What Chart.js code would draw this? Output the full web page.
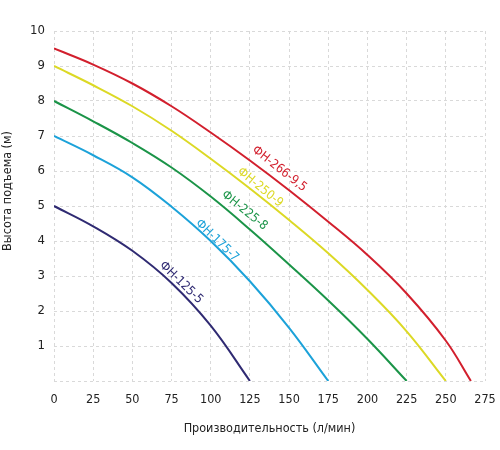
<!DOCTYPE html>
<html>
<head>
<meta charset="utf-8">
<script src="https://cdn.jsdelivr.net/npm/chart.js@4"></script>
<style>
  html, body { margin: 0; padding: 0; background: #fff; }
  #wrap { width: 500px; height: 450px; }
</style>
</head>
<body>
<div id="wrap"><canvas id="pump"></canvas></div>
<script>
// Q-H curves
const xTicks = [0, 25, 50, 75, 100, 125, 150, 175, 200, 225, 250, 275];
const yTicks = [1, 2, 3, 4, 5, 6, 7, 8, 9, 10];

const q266 = [0, 25, 50, 75, 100, 125, 150, 175, 200, 225, 250, 266];
const h266 = [9.5, 9.04, 8.5, 7.85, 7.1, 6.3, 5.45, 4.55, 3.6, 2.5, 1.15, 0];

const q250 = [0, 25, 50, 75, 100, 125, 150, 175, 200, 225, 250];
const h250 = [9.0, 8.45, 7.85, 7.15, 6.35, 5.5, 4.6, 3.65, 2.6, 1.42, 0];

const q225 = [0, 25, 50, 75, 100, 125, 150, 175, 200, 225];
const h225 = [8.0, 7.42, 6.8, 6.1, 5.27, 4.33, 3.33, 2.3, 1.2, 0];

const q175 = [0, 25, 50, 75, 100, 125, 150, 175];
const h175 = [7.0, 6.45, 5.82, 4.98, 4.0, 2.85, 1.52, 0];

const q125 = [0, 25, 50, 75, 100, 125];
const h125 = [5.0, 4.42, 3.72, 2.8, 1.58, 0];

const names = ['ФН-266-9,5', 'ФН-250-9', 'ФН-225-8', 'ФН-175-7', 'ФН-125-5'];
const colors = ['#d21f2d', '#dcd925', '#1b9448', '#1ca2d9', '#2f2a72'];
// where each curve name sits (data units) and its tilt
const labelQ = [143.8, 131.5, 121.5, 104, 81.1];
const labelH = [6.06, 5.53, 4.87, 4.01, 2.81];
const labelAngle = [38, 39, 39, 44, 44];

const FONT = "'DejaVu Sans Condensed', 'Liberation Sans Narrow', 'Roboto', sans-serif";

const pts = (qs, hs) => qs.map((q, i) => ({ x: q, y: hs[i] }));
const series = [pts(q266, h266), pts(q250, h250), pts(q225, h225), pts(q175, h175), pts(q125, h125)];

const curveNames = {
  id: 'curveNames',
  afterDatasetsDraw(chart) {
    const { ctx, chartArea, scales: { x, y } } = chart;
    ctx.save();
    ctx.font = '12.5px ' + FONT;
    ctx.textAlign = 'center';
    ctx.textBaseline = 'middle';
    names.forEach((n, i) => {
      ctx.save();
      ctx.translate(x.getPixelForValue(labelQ[i]), y.getPixelForValue(labelH[i]));
      ctx.rotate(labelAngle[i] * Math.PI / 180);
      ctx.fillStyle = colors[i];
      ctx.fillText(n, 0, 0);
      ctx.restore();
    });
    // y axis title sits a bit above the middle in the original
    ctx.translate(8, chartArea.top + 160);
    ctx.rotate(-Math.PI / 2);
    ctx.fillStyle = '#222';
    ctx.fillText('Высота подъема (м)', 0, 0);
    ctx.restore();
  }
};

new Chart(document.getElementById('pump'), {
  type: 'line',
  data: {
    datasets: series.map((s, i) => ({
      label: names[i], data: s,
      borderColor: colors[i], borderWidth: 2,
      pointRadius: 0, fill: false, tension: 0.4,
    })),
  },
  options: {
    responsive: true, maintainAspectRatio: false, animation: false,
    layout: { padding: { top: 31, right: 15, left: 0, bottom: 0 } },
    plugins: { legend: { display: false }, tooltip: { enabled: false } },
    scales: {
      x: {
        type: 'linear', min: 0, max: 275,
        afterBuildTicks: (s) => { s.ticks = xTicks.map(v => ({ value: v })); },
        ticks: { color: '#222', font: { family: FONT, size: 12.5 }, padding: 11, maxRotation: 0 },
        grid: { color: '#d9d9d9', lineWidth: 1, drawTicks: false },
        border: { display: false, dash: [3, 3] },
        title: { display: true, text: 'Производительность (л/мин)', color: '#222',
                 font: { family: FONT, size: 12.5 }, padding: { top: 4, bottom: 14 } },
        afterFit: (s) => { s.height = 69; s.paddingRight = 0; s.paddingLeft = 0; },
      },
      y: {
        type: 'linear', min: 0, max: 10,
        afterBuildTicks: (s) => { s.ticks = [0].concat(yTicks).map(v => ({ value: v })); },
        ticks: { color: '#222', font: { family: FONT, size: 13 }, padding: 9,
                 callback: (v) => v === 0 ? '' : v },
        grid: { color: '#d9d9d9', lineWidth: 1, drawTicks: false },
        border: { display: false, dash: [3, 3] },
        afterFit: (s) => { s.width = 54; },
      },
    },
  },
  plugins: [curveNames],
});
</script>
</body>
</html>
